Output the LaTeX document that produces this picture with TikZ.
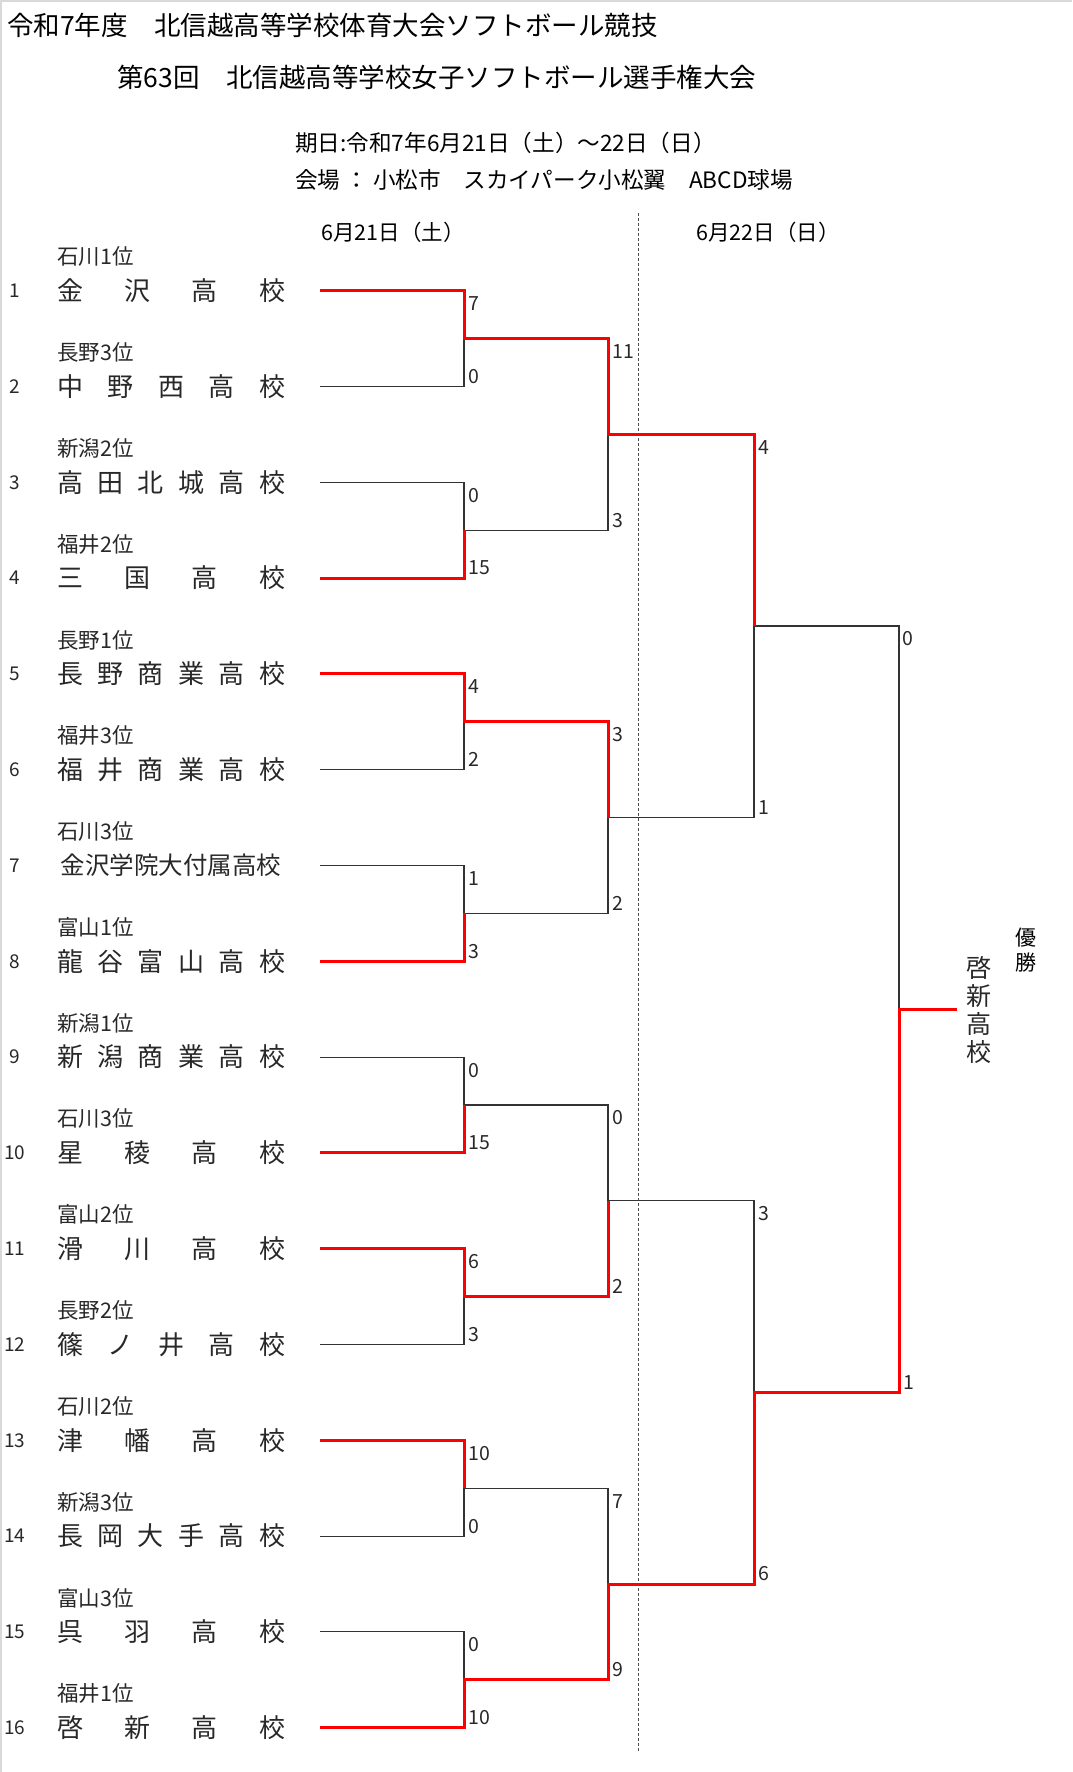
\documentclass[tikz,border=0pt]{standalone}
\usepackage{fontspec}
\setmainfont{Noto Sans CJK JP}
\usetikzlibrary{calc}
\definecolor{winred}{RGB}{255,0,0}
\definecolor{inkgray}{RGB}{40,40,40}
\tikzset{
  title/.style={anchor=west, inner sep=0pt, font=\fontsize{26.5}{26.5}\selectfont},
  info/.style={anchor=west, inner sep=0pt, font=\fontsize{22.6}{22.6}\selectfont},
  day/.style={inner sep=0pt, font=\fontsize{21.5}{21.5}\selectfont},
  team/.style={anchor=west, inner sep=0pt, text=inkgray, font=\fontsize{26}{26}\selectfont},
  pref/.style={anchor=west, inner sep=0pt, text=inkgray, font=\fontsize{21.5}{21.5}\selectfont},
  seed/.style={inner sep=0pt, text=inkgray, font=\fontsize{19}{19}\selectfont},
  score/.style={anchor=west, inner sep=0pt, text=inkgray, font=\fontsize{19.5}{19.5}\selectfont},
  winner/.style={draw=winred, line width=3pt},
  loser/.style={draw=black!80, line width=1.1pt},
}
\begin{document}
\begin{tikzpicture}[x=1pt, y=-1pt]
    \useasboundingbox (0,0) rectangle (1072,1772);
    \draw[black!15, line width=1.5pt] (0.75,1772) -- (0.75,0.75) -- (1072,0.75);

    % Headings
    \node[title] (t1) at (7,25) {令和7年度　北信越高等学校体育大会ソフトボール競技};
    \node[title] (t2) at (117,77) {第63回　北信越高等学校女子ソフトボール選手権大会};
    \node[info] (date) at (295,143) {期日:令和7年6月21日（土）～22日（日）};
    \node[info] (venue) at (295,180) {会場 ： 小松市　スカイパーク小松翼　ABCD球場};
    \node[day] (day1) at (393,232) {6月21日（土）};
    \node[day] (day2) at (768,232) {6月22日（日）};

    % Day divider
    \coordinate (dtop) at (638,213);
    \coordinate (dbot) at (638,1752);
    \draw[black!70, line width=0.9pt, dash pattern=on 3pt off 2pt] (dtop) -- (dbot);

    % Teams
    \foreach \n/\pref/\school in {
        1/石川1位/{金\hfill{}沢\hfill{}高\hfill{}校},
        2/長野3位/{中\hfill{}野\hfill{}西\hfill{}高\hfill{}校},
        3/新潟2位/{高\hfill{}田\hfill{}北\hfill{}城\hfill{}高\hfill{}校},
        4/福井2位/{三\hfill{}国\hfill{}高\hfill{}校},
        5/長野1位/{長\hfill{}野\hfill{}商\hfill{}業\hfill{}高\hfill{}校},
        6/福井3位/{福\hfill{}井\hfill{}商\hfill{}業\hfill{}高\hfill{}校},
        7/石川3位/{\fontsize{24.5}{24.5}\selectfont\hfill{}金沢学院大付属高校\hfill{}},
        8/富山1位/{龍\hfill{}谷\hfill{}富\hfill{}山\hfill{}高\hfill{}校},
        9/新潟1位/{新\hfill{}潟\hfill{}商\hfill{}業\hfill{}高\hfill{}校},
        10/石川3位/{星\hfill{}稜\hfill{}高\hfill{}校},
        11/富山2位/{滑\hfill{}川\hfill{}高\hfill{}校},
        12/長野2位/{篠\hfill{}ノ\hfill{}井\hfill{}高\hfill{}校},
        13/石川2位/{津\hfill{}幡\hfill{}高\hfill{}校},
        14/新潟3位/{長\hfill{}岡\hfill{}大\hfill{}手\hfill{}高\hfill{}校},
        15/富山3位/{呉\hfill{}羽\hfill{}高\hfill{}校},
        16/福井1位/{啓\hfill{}新\hfill{}高\hfill{}校}} {
      \pgfmathsetmacro{\ty}{290.7+95.8*(\n-1)}
      \node[seed] (no\n) at (15,\ty) {\n};
      \node[pref] (pr\n) at (57,\ty-34) {\pref};
      \node[team] (sc\n) at (57,\ty) {\makebox[228pt][s]{\school}};
      \coordinate (e\n) at (320,\ty);
    }

    % Match points
    \foreach \i in {1,...,8}
      \coordinate (m\i) at (464,{290.7+95.8*(2*\i-1.5)});
    \foreach \i in {1,...,4}
      \coordinate (q\i) at (608,{290.7+95.8*(4*\i-2.5)});
    \foreach \i in {1,2}
      \coordinate (s\i) at (754,{290.7+95.8*(8*\i-4.5)});
    \coordinate (f) at (899,{290.7+95.8*7.5});
    \coordinate (champ) at (957,{290.7+95.8*7.5});

    % Losing lines
    \foreach \a/\b in {e2/m1,e3/m2,e6/m3,e7/m4,e9/m5,e12/m6,e14/m7,e15/m8,
                       m2/q1,m4/q2,m5/q3,m7/q4,q2/s1,q3/s2,s1/f}
      \draw[loser] (\a) -| (\b);

    % Winning lines
    \draw[winner] (e1) -| (m1) -| (q1) -| (s1);
    \draw[winner] (e4) -| (m2);
    \draw[winner] (e5) -| (m3) -| (q2);
    \draw[winner] (e8) -| (m4);
    \draw[winner] (e10) -| (m5);
    \draw[winner] (e11) -| (m6) -| (q3);
    \draw[winner] (e13) -| (m7);
    \draw[winner] (e16) -| (m8) -| (q4) -| (s2) -| (f) -- (champ);

    % Scores
    \foreach \i/\a/\b in {1/7/0,2/0/15,3/4/2,4/1/3,5/0/15,6/6/3,7/10/0,8/0/10} {
      \pgfmathtruncatemacro{\u}{2*\i-1}
      \pgfmathtruncatemacro{\d}{2*\i}
      \node[score, xshift=4pt, yshift=-13pt] (ra\i) at (m\i |- e\u) {\a};
      \node[score, xshift=4pt, yshift=10pt] (rb\i) at (m\i |- e\d) {\b};
    }
    \foreach \i/\a/\b in {1/11/3,2/3/2,3/0/2,4/7/9} {
      \pgfmathtruncatemacro{\u}{2*\i-1}
      \pgfmathtruncatemacro{\d}{2*\i}
      \node[score, xshift=4pt, yshift=-13pt] (qa\i) at (q\i |- m\u) {\a};
      \node[score, xshift=4pt, yshift=10pt] (qb\i) at (q\i |- m\d) {\b};
    }
    \foreach \i/\a/\b in {1/4/1,2/3/6} {
      \pgfmathtruncatemacro{\u}{2*\i-1}
      \pgfmathtruncatemacro{\d}{2*\i}
      \node[score, xshift=4pt, yshift=-13pt] (sa\i) at (s\i |- q\u) {\a};
      \node[score, xshift=4pt, yshift=10pt] (sb\i) at (s\i |- q\d) {\b};
    }
    \node[score, xshift=3pt, yshift=-13pt] (fa) at (f |- s1) {0};
    \node[score, xshift=4pt, yshift=10pt] (fb) at (f |- s2) {1};

    % Champion
    \node[inner sep=0pt, align=center, text=inkgray, font=\fontsize{25}{28}\selectfont] (winname) at (979,1010) {啓\\新\\高\\校};
    \node[inner sep=0pt, align=center, font=\fontsize{21}{25.5}\selectfont] (wintitle) at (1026,950) {優\\勝};
\end{tikzpicture}
\end{document}
